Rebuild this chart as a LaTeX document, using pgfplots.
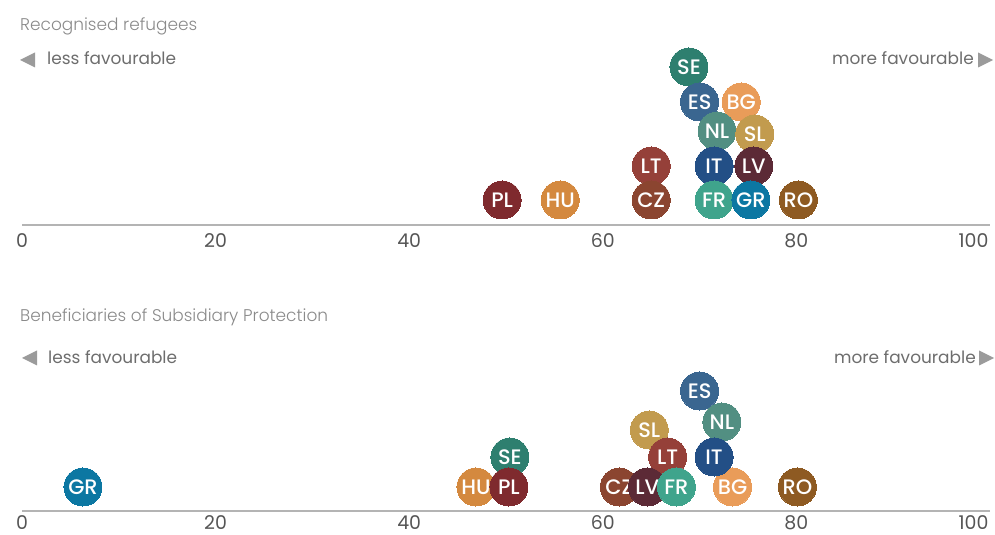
\documentclass[border=0pt]{standalone}
\usepackage{pgfplots}
\pgfplotsset{compat=1.18}
\usepackage{fontspec}
\setmainfont{Poppins}
\newfontfamily\poplight{Poppins Light}
\newfontfamily\popsemi{Poppins Medium}

\definecolor{cSE}{HTML}{2E7F6F}
\definecolor{cES}{HTML}{3A6690}
\definecolor{cBG}{HTML}{E99C59}
\definecolor{cNL}{HTML}{528F82}
\definecolor{cSL}{HTML}{C29B4E}
\definecolor{cIT}{HTML}{234F86}
\definecolor{cLV}{HTML}{5C2A36}
\definecolor{cLT}{HTML}{954039}
\definecolor{cCZ}{HTML}{8B4530}
\definecolor{cPL}{HTML}{7F2A2E}
\definecolor{cHU}{HTML}{D4893F}
\definecolor{cFR}{HTML}{3FA48C}
\definecolor{cGR}{HTML}{0C77A2}
\definecolor{cRO}{HTML}{8E5A22}
\definecolor{txtgray}{HTML}{6D6D6D}
\definecolor{tickgray}{HTML}{555555}
\definecolor{ttlgray}{HTML}{8A8A8A}
\definecolor{trigray}{HTML}{9B9B9B}
\definecolor{axgray}{HTML}{B4B4B4}

% one bubble: value, height above axis (bp), colour, label
\newcommand\bub[4]{%
  \addplot[#3, only marks, mark=*, mark size=19bp,
    mark options={draw=#3, fill=#3, line width=0pt},
    nodes near coords={#4}, nodes near coords align={center}]
    coordinates {(#1,#2)};}

\pgfplotsset{
  swarm/.style={
    scale only axis, width=968bp, height=200bp,
    xmin=0, xmax=100, ymin=0, ymax=200,
    hide y axis, axis x line*=bottom,
    x axis line style={axgray, line width=1.3pt},
    xtick={0,20,40,60,80}, major tick length=0pt,
    extra x ticks={100},
    extra x tick style={xticklabel style={anchor=north east, xshift=2bp}},
    xticklabel style={font=\fontsize{19}{19}\selectfont, text=tickgray, yshift=-5bp},
    /pgf/number format/assume math mode=true,
    clip=false,
    every node near coord/.append style={anchor=center, text=white,
      font=\popsemi\fontsize{21}{21}\selectfont, inner sep=0pt},
  }
}

\begin{document}
\begin{tikzpicture}
\useasboundingbox (0,0) rectangle (995bp,535bp);

% headings and direction hints
\node[anchor=base west, inner sep=0, text=ttlgray, font=\poplight\fontsize{17}{17}\selectfont] at (20bp,504bp) {Recognised refugees};
\fill[trigray] (20bp,475bp) -- (35bp,482.5bp) -- (35bp,467.5bp) -- cycle;
\node[anchor=base west, inner sep=0, text=txtgray, font=\fontsize{17}{17}\selectfont] at (47bp,470bp) {less favourable};
\node[anchor=base east, inner sep=0, text=txtgray, font=\fontsize{17}{17}\selectfont] at (974bp,470bp) {more favourable};
\fill[trigray] (993bp,475bp) -- (978bp,482.5bp) -- (978bp,467.5bp) -- cycle;

\node[anchor=base west, inner sep=0, text=ttlgray, font=\poplight\fontsize{17}{17}\selectfont] at (20bp,213bp) {Beneficiaries of Subsidiary Protection};
\fill[trigray] (22bp,177bp) -- (37bp,184.5bp) -- (37bp,169.5bp) -- cycle;
\node[anchor=base west, inner sep=0, text=txtgray, font=\fontsize{17}{17}\selectfont] at (48bp,171bp) {less favourable};
\node[anchor=base east, inner sep=0, text=txtgray, font=\fontsize{17}{17}\selectfont] at (976bp,171bp) {more favourable};
\fill[trigray] (994bp,177bp) -- (979bp,184.5bp) -- (979bp,169.5bp) -- cycle;

% Recognised refugees
\begin{axis}[swarm, at={(22bp,310bp)}, anchor=south west]
\bub{68.9}{158}{cSE}{SE}
\bub{70.0}{123}{cES}{ES}
\bub{74.3}{123}{cBG}{BG}
\bub{71.8}{94}{cNL}{NL}
\bub{75.7}{91}{cSL}{SL}
\bub{71.5}{59}{cIT}{IT}
\bub{75.6}{59}{cLV}{LV}
\bub{65.0}{59}{cLT}{LT}
\bub{65.0}{25}{cCZ}{CZ}
\bub{71.5}{25}{cFR}{FR}
\bub{75.3}{25}{cGR}{GR}
\bub{49.6}{25}{cPL}{PL}
\bub{55.6}{25}{cHU}{HU}
\bub{80.2}{25}{cRO}{RO}
\end{axis}

% Beneficiaries of subsidiary protection
\begin{axis}[swarm, at={(22bp,24bp)}, anchor=south west,
  xticklabel style={yshift=3.5bp}]
\bub{70.0}{120}{cES}{ES}
\bub{72.3}{89}{cNL}{NL}
\bub{73.4}{24}{cBG}{BG}
\bub{71.5}{54}{cIT}{IT}
\bub{64.8}{81}{cSL}{SL}
\bub{66.7}{54}{cLT}{LT}
\bub{61.7}{24}{cCZ}{CZ}
\bub{64.6}{24}{cLV}{LV}
\bub{67.6}{24}{cFR}{FR}
\bub{50.4}{54}{cSE}{SE}
\bub{46.9}{24}{cHU}{HU}
\bub{50.3}{24}{cPL}{PL}
\bub{6.3}{24}{cGR}{GR}
\bub{80.1}{24}{cRO}{RO}
\end{axis}
\end{tikzpicture}
\end{document}
